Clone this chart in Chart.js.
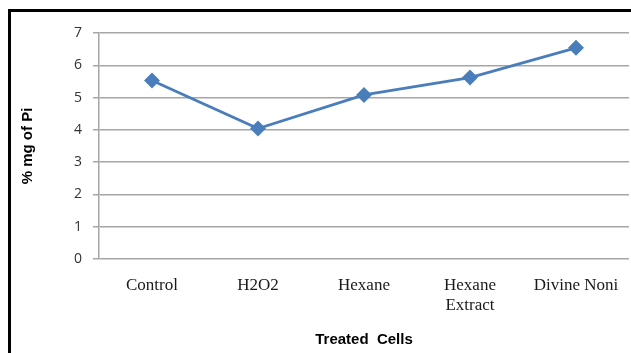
<!DOCTYPE html>
<html>
<head>
<meta charset="utf-8">
<script src="https://cdn.jsdelivr.net/npm/chart.js@4"></script>
<style>
  html, body { margin: 0; padding: 0; background: #fff; overflow: hidden; }
  #wrap { position: relative; width: 631px; height: 353px; overflow: hidden; }
  #frame {
    position: absolute; left: 8px; top: 9px; width: 700px; height: 400px;
    border-left: 3px solid #000; border-top: 3px solid #000; box-sizing: border-box;
  }
  canvas { position: absolute; left: 0; top: 0; }
</style>
</head>
<body>
<div id="wrap">
  <div id="frame"></div>
  <canvas id="chart" width="631" height="353"></canvas>
</div>
<script>
// data
const categories = ["Control", "H2O2", "Hexane", ["Hexane", "Extract"], "Divine Noni"];
const pctPi = [5.53, 4.04, 5.08, 5.62, 6.54];
const yTicks = [0, 1, 2, 3, 4, 5, 6, 7];

const lineBlue = "#4a7ebb";
const gridGray = "#a6a6a6";

const ctx = document.getElementById("chart");
const chart = new Chart(ctx, {
    type: "line",
    data: {
        labels: categories,
        datasets: [{
            data: pctPi,
            borderColor: lineBlue,
            backgroundColor: lineBlue,
            borderWidth: 2.8,
            pointStyle: "rectRot",
            pointRadius: 6,
            pointHoverRadius: 6,
            tension: 0
        }]
    },
    options: {
        responsive: false,
        animation: false,
        layout: { autoPadding: false, padding: { left: 0, right: 2, top: 33, bottom: 0 } },
        plugins: { legend: { display: false }, tooltip: { enabled: false } },
        scales: {
            x: {
                type: "category",
                offset: true,
                grid: { display: false, drawTicks: false },
                border: { display: false },
                ticks: {
                    padding: 16,
                    maxRotation: 0,
                    autoSkip: false,
                    color: "#1a1a1a",
                    font: { family: "Liberation Serif", size: 17, lineHeight: 1.2 }
                },
                title: {
                    display: true,
                    text: "Treated  Cells",
                    color: "#000",
                    font: { family: "Liberation Sans", size: 15, weight: "bold" },
                    padding: { top: 0, bottom: 4 }
                },
                afterFit: (scale) => {
                    scale.height = 94;
                    // no extra side padding for the outer labels
                    scale.paddingLeft = 0;
                    scale.paddingRight = 0;
                }
            },
            y: {
                min: 0,
                max: 7,
                afterBuildTicks: (scale) => { scale.ticks = yTicks.map(v => ({ value: v })); },
                grid: { color: gridGray, lineWidth: 1.5, tickLength: 6 },
                border: { color: gridGray, width: 1.5 },
                ticks: {
                    padding: 11,
                    color: "#333",
                    font: { family: "Open Sans", size: 14 }
                },
                title: {
                    display: true,
                    text: "% mg of Pi",
                    color: "#000",
                    font: { family: "Liberation Sans", size: 15, weight: "bold" },
                    padding: { top: 19, bottom: 0 }
                },
                afterFit: (scale) => { scale.width = 99; }
            }
        }
    }
});
</script>
</body>
</html>
